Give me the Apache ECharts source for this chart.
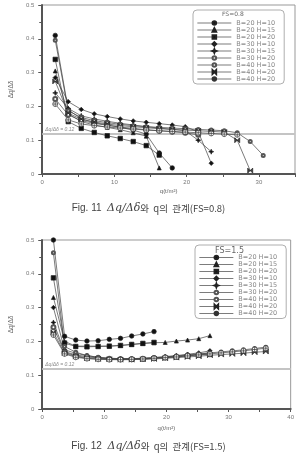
<!DOCTYPE html>
<html>
<head>
<meta charset="utf-8">
<title>Fig. 11 / Fig. 12</title>
<script src="https://cdn.jsdelivr.net/npm/echarts@6.0.0/dist/echarts.min.js"></script>
<style>
html, body { margin: 0; padding: 0; background: #fff; }
#main { width: 297px; height: 463px; }
</style>
</head>
<body>
<div id="main"></div>
<script>
// load steps q (t/m2)
var qSteps = [1.8, 3.6, 5.4, 7.2, 9.0, 10.8, 12.6, 14.4, 16.2, 18.0, 19.8, 21.6, 23.4, 25.2, 27.0, 28.8, 30.6, 32.4, 34.2, 36.0];

var caseNames = ['B=20 H=10', 'B=20 H=15', 'B=20 H=20', 'B=30 H=10', 'B=30 H=15', 'B=30 H=20', 'B=40 H=10', 'B=40 H=20', 'B=40 H=20'];

// FS = 0.8
var fs08_b20h10 = [0.41, 0.19, 0.163, 0.152, 0.145, 0.138, 0.13, 0.118, 0.062, 0.018];
var fs08_b20h15 = [0.305, 0.178, 0.155, 0.145, 0.138, 0.131, 0.122, 0.112, 0.018];
var fs08_b20h20 = [0.339, 0.155, 0.135, 0.123, 0.113, 0.105, 0.096, 0.084, 0.056];
var fs08_b30h10 = [0.285, 0.214, 0.191, 0.178, 0.17, 0.163, 0.157, 0.153, 0.149, 0.145, 0.14, 0.125, 0.032];
var fs08_b30h15 = [0.24, 0.194, 0.172, 0.163, 0.156, 0.15, 0.145, 0.14, 0.136, 0.132, 0.128, 0.1, 0.066];
var fs08_b30h20 = [0.222, 0.175, 0.158, 0.15, 0.144, 0.139, 0.135, 0.131, 0.128, 0.125, 0.122, 0.116];
var fs08_b40h10 = [0.396, 0.187, 0.167, 0.158, 0.152, 0.147, 0.143, 0.14, 0.138, 0.136, 0.134, 0.132, 0.13, 0.128, 0.122, 0.096, 0.055];
var fs08_b40h20a = [0.274, 0.18, 0.162, 0.154, 0.148, 0.143, 0.14, 0.137, 0.134, 0.132, 0.13, 0.128, 0.126, 0.124, 0.1, 0.01];
var fs08_b40h20b = [0.207, 0.16, 0.148, 0.143, 0.139, 0.136, 0.133, 0.13, 0.128, 0.126, 0.124, 0.122, 0.12, 0.118, 0.116];

// FS = 1.5
var fs15_b20h10 = [0.5, 0.215, 0.204, 0.201, 0.202, 0.206, 0.209, 0.216, 0.222, 0.229];
var fs15_b20h15 = [0.33, 0.2, 0.186, 0.186, 0.186, 0.186, 0.188, 0.191, 0.194, 0.196, 0.197, 0.201, 0.204, 0.208, 0.217];
var fs15_b20h20 = [0.388, 0.195, 0.185, 0.184, 0.185, 0.186, 0.188, 0.191, 0.194, 0.197];
var fs15_b30h10 = [0.3, 0.175, 0.165, 0.158, 0.153, 0.15, 0.149, 0.149, 0.15, 0.152, 0.155, 0.158, 0.162, 0.166, 0.172];
var fs15_b30h15 = [0.256, 0.17, 0.16, 0.155, 0.151, 0.149, 0.148, 0.148, 0.149, 0.151, 0.153, 0.156, 0.159, 0.162, 0.166];
var fs15_b30h20 = [0.242, 0.168, 0.157, 0.152, 0.15, 0.148, 0.147, 0.147, 0.148, 0.15, 0.152, 0.154, 0.157, 0.16, 0.162];
var fs15_b40h10 = [0.462, 0.185, 0.168, 0.158, 0.153, 0.15, 0.149, 0.149, 0.15, 0.152, 0.154, 0.157, 0.16, 0.163, 0.166, 0.169, 0.172, 0.175, 0.179, 0.183];
var fs15_b40h20a = [0.227, 0.165, 0.155, 0.15, 0.148, 0.147, 0.146, 0.146, 0.147, 0.148, 0.15, 0.152, 0.154, 0.156, 0.159, 0.161, 0.163, 0.165, 0.168, 0.17];
var fs15_b40h20b = [0.219, 0.163, 0.153, 0.149, 0.147, 0.146, 0.146, 0.147, 0.148, 0.15, 0.152, 0.154, 0.157, 0.16, 0.163, 0.166, 0.169, 0.172, 0.176, 0.18];

var fs08List = [fs08_b20h10, fs08_b20h15, fs08_b20h20, fs08_b30h10, fs08_b30h15, fs08_b30h20, fs08_b40h10, fs08_b40h20a, fs08_b40h20b];
var fs15List = [fs15_b20h10, fs15_b20h15, fs15_b20h20, fs15_b30h10, fs15_b30h15, fs15_b30h20, fs15_b40h10, fs15_b40h20a, fs15_b40h20b];

var limitValue = 0.12;

// marker per case (filled black / open gray)
var markers = [
    { symbol: 'circle', size: 4.5, fill: '#111', border: '#222' },
    { symbol: 'triangle', size: 4, fill: '#111', border: '#222' },
    { symbol: 'rect', size: 4.5, fill: '#111', border: '#222' },
    { symbol: 'diamond', size: 4.5, fill: '#111', border: '#222' },
    { symbol: 'path://M5,0L6.4,3.6L10,5L6.4,6.4L5,10L3.6,6.4L0,5L3.6,3.6Z', size: 5, fill: '#111', border: '#222' },
    { symbol: 'emptyCircle', size: 4, fill: '#555', border: '#555' },
    { symbol: 'emptyCircle', size: 3, fill: '#555', border: '#555' },
    { symbol: 'path://M0,0L10,10L10,0L0,10Z', size: 5, fill: '#444', border: '#222' },
    { symbol: 'path://M5,0A5,5 0 1,1 4.99,0ZM0,5L10,5M5,0L5,10', size: 5, fill: '#fff', border: '#333' }
];

function makeSeries(values, k, g) {
    var m = markers[k];
    return {
        type: 'line',
        name: caseNames[k] + '#' + g + k,
        xAxisIndex: g,
        yAxisIndex: g,
        data: values.map(function (v, i) { return [qSteps[i], v]; }),
        symbol: m.symbol,
        symbolSize: m.size,
        showSymbol: true,
        lineStyle: { color: '#444', width: 0.7 },
        itemStyle: { color: m.fill, borderColor: m.border, borderWidth: 0.7 },
        animation: false,
        z: 3
    };
}

var series = [];
fs08List.forEach(function (v, k) { series.push(makeSeries(v, k, 0)); });
fs15List.forEach(function (v, k) { series.push(makeSeries(v, k, 1)); });

function limitLine(s) {
    s.markLine = {
        silent: true,
        symbol: 'none',
        data: [{ yAxis: limitValue }],
        lineStyle: { color: '#c4c4c4', width: 2, type: 'solid' },
        label: {
            position: 'insideStartTop',
            formatter: 'Δq/Δδ = 0.12',
            fontSize: 5,
            fontStyle: 'italic',
            color: '#888',
            distance: [3, 1]
        },
        animation: false,
        z: 1
    };
}
limitLine(series[0]);
limitLine(series[9]);

function xAxisCfg(g, max) {
    return {
        type: 'value', gridIndex: g, min: 0, max: max, interval: 10,
        name: 'q(t/m²)', nameLocation: 'middle', nameGap: g === 0 ? 14 : 16,
        nameTextStyle: { fontSize: 6, color: '#666' },
        axisLine: { lineStyle: { color: '#555', width: 2 } },
        axisTick: { length: 3, lineStyle: { color: '#555', width: 1 } },
        minorTick: { show: true, splitNumber: 2, length: 3, lineStyle: { color: '#555', width: 1 } },
        splitLine: { show: false },
        axisLabel: { fontSize: 6, color: '#777', margin: 5, showMaxLabel: max === 40 }
    };
}

function yAxisCfg(g) {
    return {
        type: 'value', gridIndex: g, min: 0, max: 0.5, interval: 0.1,
        name: 'Δq/Δδ', nameLocation: 'middle', nameGap: 15,
        nameTextStyle: { fontSize: 6.5, color: '#666' },
        axisLine: { lineStyle: { color: '#555', width: 2 } },
        axisTick: { length: 4, lineStyle: { color: '#555', width: 1 } },
        minorTick: { show: true, splitNumber: 2, length: 3, lineStyle: { color: '#555', width: 1 } },
        splitLine: { show: false },
        axisLabel: {
            fontSize: 6, color: '#777', margin: 8,
            formatter: function (v) { return v === 0 ? '0' : v.toFixed(1); }
        }
    };
}

function legendCfg(g, left, top, padTop) {
    return {
        orient: 'vertical',
        left: left, top: top,
        data: caseNames.map(function (n, k) { return n + '#' + g + k; }),
        formatter: function (n) { return n.split('#')[0]; },
        itemWidth: 34, itemHeight: 4.5, itemGap: 0,
        padding: [padTop, 9, 1.5, 4],
        backgroundColor: '#fff',
        borderColor: '#999', borderWidth: 0.8, borderRadius: 4,
        lineStyle: { width: 0.7, color: '#444' },
        textStyle: { fontSize: 6.5, fontFamily: 'DejaVu Sans', color: '#888', lineHeight: 6.75 },
        selectedMode: false,
        z: 10
    };
}

var myChart = echarts.init(document.getElementById('main'));

var option = {
    animation: false,
    backgroundColor: '#fff',
    grid: [
        { left: 33, top: 5, width: 262, height: 169, show: true, borderColor: '#999', borderWidth: 1 },
        { left: 34, top: 240, width: 259, height: 169, show: true, borderColor: '#999', borderWidth: 1 }
    ],
    xAxis: [xAxisCfg(0, 35), xAxisCfg(1, 40)],
    yAxis: [yAxisCfg(0), yAxisCfg(1)],
    legend: [legendCfg(0, 193, 10, 9.5), legendCfg(1, 195, 245, 9)],
    graphic: [
        { type: 'text', left: 222, top: 11, z: 100,
          style: { text: 'FS=0.8', font: '6px "DejaVu Sans"', fill: '#666' } },
        { type: 'text', left: 215, top: 246.5, z: 100,
          style: { text: 'FS=1.5', font: '8px "DejaVu Sans"', fill: '#666' } },
        { type: 'text', left: 'center', top: 203, z: 100,
          style: {
              text: '{a|Fig. 11  }{b|Δq/Δδ}{c|와  q의  관계(FS=0.8)}',
              rich: {
                  a: { font: '10px "Liberation Sans"', fill: '#444' },
                  b: { font: 'italic 11px "DejaVu Serif"', fill: '#444' },
                  c: { font: '9.5px "Noto Sans CJK KR"', fill: '#444' }
              }
          } },
        { type: 'text', left: 'center', top: 441, z: 100,
          style: {
              text: '{a|Fig. 12  }{b|Δq/Δδ}{c|와  q의  관계(FS=1.5)}',
              rich: {
                  a: { font: '10px "Liberation Sans"', fill: '#444' },
                  b: { font: 'italic 11px "DejaVu Serif"', fill: '#444' },
                  c: { font: '9.5px "Noto Sans CJK KR"', fill: '#444' }
              }
          } }
    ],
    series: series
};

myChart.setOption(option);
</script>
</body>
</html>
